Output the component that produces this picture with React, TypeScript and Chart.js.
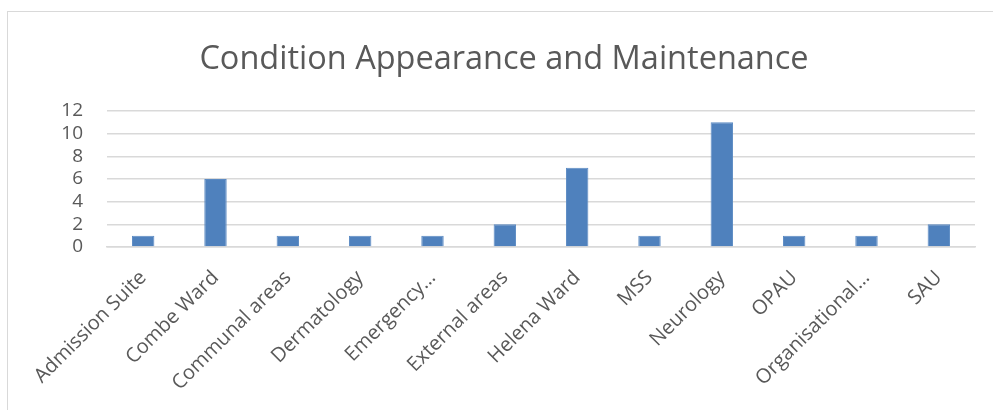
import React, { useEffect, useRef } from "react";
import { Chart, registerables } from "chart.js";

Chart.register(...registerables);

const categories = [
  "Admission Suite",
  "Combe Ward",
  "Communal areas",
  "Dermatology",
  "Emergency…",
  "External areas",
  "Helena Ward",
  "MSS",
  "Neurology",
  "OPAU",
  "Organisational…",
  "SAU",
];
const counts = [1, 6, 1, 1, 1, 2, 7, 1, 11, 1, 1, 2];
const yTicks = [0, 2, 4, 6, 8, 10, 12];
const titleText = "Condition Appearance and Maintenance";

const FONT = "'Open Sans', 'Liberation Sans', sans-serif";
const TEXT = "#595959";

export default function App() {
  const ref = useRef<HTMLCanvasElement | null>(null);

  useEffect(() => {
    document.body.style.margin = "0";
    const ctx = ref.current!.getContext("2d")!;
    const chart = new Chart(ctx, {
      type: "bar",
      data: {
        labels: categories,
        datasets: [
          {
            data: counts,
            backgroundColor: "#4F81BD",
            borderColor: "#5B8AC3",
            borderWidth: 1,
            barPercentage: 0.31,
            categoryPercentage: 1,
          },
        ],
      },
      options: {
        animation: false,
        responsive: false,
        maintainAspectRatio: false,
        layout: { padding: { top: 0, right: 18, bottom: 0, left: 33 } },
        plugins: {
          legend: { display: false },
          tooltip: { enabled: false },
          title: {
            display: true,
            text: titleText,
            color: TEXT,
            font: { family: FONT, size: 32.5, weight: "normal", lineHeight: 1.2 },
            padding: { top: 40, bottom: 32 },
          },
        },
        scales: {
          x: {
            grid: { display: false },
            border: { display: true, color: "#d9d9d9", width: 1.5 },
            ticks: {
              color: TEXT,
              font: { family: FONT, size: 20 },
              minRotation: 45,
              maxRotation: 45,
              autoSkip: false,
              padding: 11,
            },
            afterFit: (scale: any) => {
              scale.height = 163;
            },
          },
          y: {
            min: 0,
            max: 12,
            afterBuildTicks: (scale: any) => {
              scale.ticks = yTicks.map((v) => ({ value: v }));
            },
            grid: { color: "#d9d9d9", lineWidth: 1.5, drawTicks: false },
            border: { display: false },
            ticks: {
              color: TEXT,
              font: { family: FONT, size: 19 },
              padding: 24,
              autoSkip: false,
            },
            afterFit: (scale: any) => {
              scale.width = 74;
            },
          },
        },
      },
    });
    return () => chart.destroy();
  }, []);

  return (
    <div style={{ position: "absolute", left: 0, top: 0, width: 993, height: 410, overflow: "hidden", background: "#fff" }}>
      <div
        style={{
          position: "absolute",
          left: 7,
          top: 11,
          width: 1000,
          height: 500,
          border: "1px solid #d9d9d9",
          boxSizing: "border-box",
        }}
      />
      <canvas ref={ref} width={993} height={410} style={{ position: "absolute", left: 0, top: 0 }} />
    </div>
  );
}
